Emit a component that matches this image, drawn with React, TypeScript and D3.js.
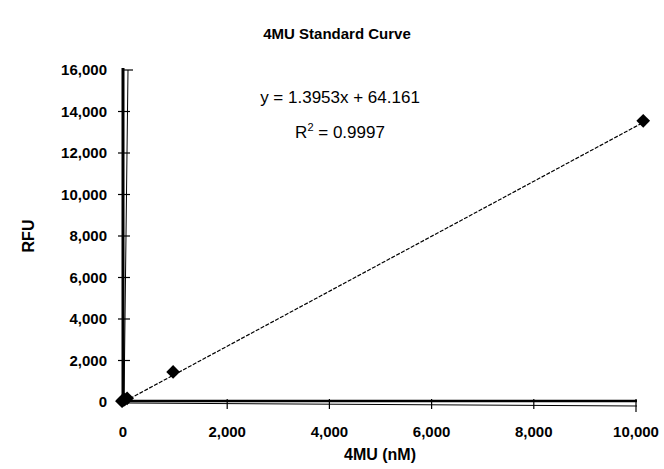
import * as React from 'react';
import * as d3 from 'd3';

const concentrations = [0, 10, 50, 100, 1000, 10200];
const rfu = [40, 70, 110, 180, 1450, 13550];
const xTicks = [0, 2000, 4000, 6000, 8000, 10000];
const yTicks = [0, 2000, 4000, 6000, 8000, 10000, 12000, 14000, 16000];
const equation = 'y = 1.3953x + 64.161';
const rSquared = '0.9997';

const W = 664;
const H = 469;
const font = '"Liberation Sans", Arial, sans-serif';

export default function App() {
  const x = d3.scaleLinear().domain([0, 10000]).range([125, 636]);
  const y = d3.scaleLinear().domain([0, 16000]).range([402, 70]);
  const fmt = d3.format(',');
  const diamond = d3.symbol().type(d3.symbolDiamond2).size(120)();

  const last = concentrations.length - 1;
  const trend = d3.line<number>()
    .x(i => x(concentrations[i]))
    .y(i => y(rfu[i]))([0, last]);

  return (
    <svg width={W} height={H} style={{ position: 'absolute', left: 0, top: 0, background: '#fff' }}>
      <text x={337} y={39} textAnchor="middle" fontFamily={font} fontWeight="bold" fontSize={15}>
        4MU Standard Curve
      </text>

      {/* y axis: heavy rule plus thin slanted rule */}
      <line x1={123} x2={123} y1={y(16000) - 2} y2={y(0) + 2} stroke="#000" strokeWidth={3} />
      <line x1={124} x2={128} y1={y(0)} y2={y(16000)} stroke="#000" strokeWidth={1} />
      {yTicks.map(t => (
        <g key={t}>
          {t > 0 && (
            <line x1={t === 16000 ? 123 : 118} x2={t === 16000 ? 133 : 130} y1={y(t)} y2={y(t)} stroke="#000" strokeWidth={1.2} />
          )}
          <text x={107} y={y(t) + 5} textAnchor="end" fontFamily={font} fontWeight="bold" fontSize={15}>
            {fmt(t)}
          </text>
        </g>
      ))}

      {/* x axis */}
      <line x1={121} x2={637} y1={y(0) - 1} y2={y(0) - 1} stroke="#000" strokeWidth={2.5} />
      <line x1={125} x2={637} y1={y(0) + 1} y2={y(0) + 4} stroke="#000" strokeWidth={1} />
      {xTicks.map(t => (
        <g key={t}>
          {t > 0 && (
            <line x1={x(t)} x2={x(t)} y1={y(0) - 3} y2={y(0) + (t === 10000 ? 10 : 7)} stroke="#000" strokeWidth={1.2} />
          )}
          <text x={x(t) + (t === 0 ? -2 : 0)} y={437} textAnchor="middle" fontFamily={font} fontWeight="bold" fontSize={15}>
            {fmt(t)}
          </text>
        </g>
      ))}

      <text x={380} y={460} textAnchor="middle" fontFamily={font} fontWeight="bold" fontSize={16}>
        4MU (nM)
      </text>
      <text transform="translate(34,236) rotate(-90)" textAnchor="middle" fontFamily={font} fontWeight="bold" fontSize={16}>
        RFU
      </text>

      <path d={trend ?? ''} fill="none" stroke="#000" strokeWidth={1.2} strokeDasharray="4,1.5" />

      {concentrations.map((c, i) => (
        <path key={i} d={diamond ?? ''} transform={`translate(${x(c) - 3},${y(rfu[i])})`} fill="#000" />
      ))}

      <text x={340} y={103} textAnchor="middle" fontFamily={font} fontSize={17}>
        {equation}
      </text>
      <text x={340} y={138} textAnchor="middle" fontFamily={font} fontSize={17}>
        R<tspan fontSize={11} dy={-7}>2</tspan><tspan dy={7}>{` = ${rSquared}`}</tspan>
      </text>
    </svg>
  );
}
